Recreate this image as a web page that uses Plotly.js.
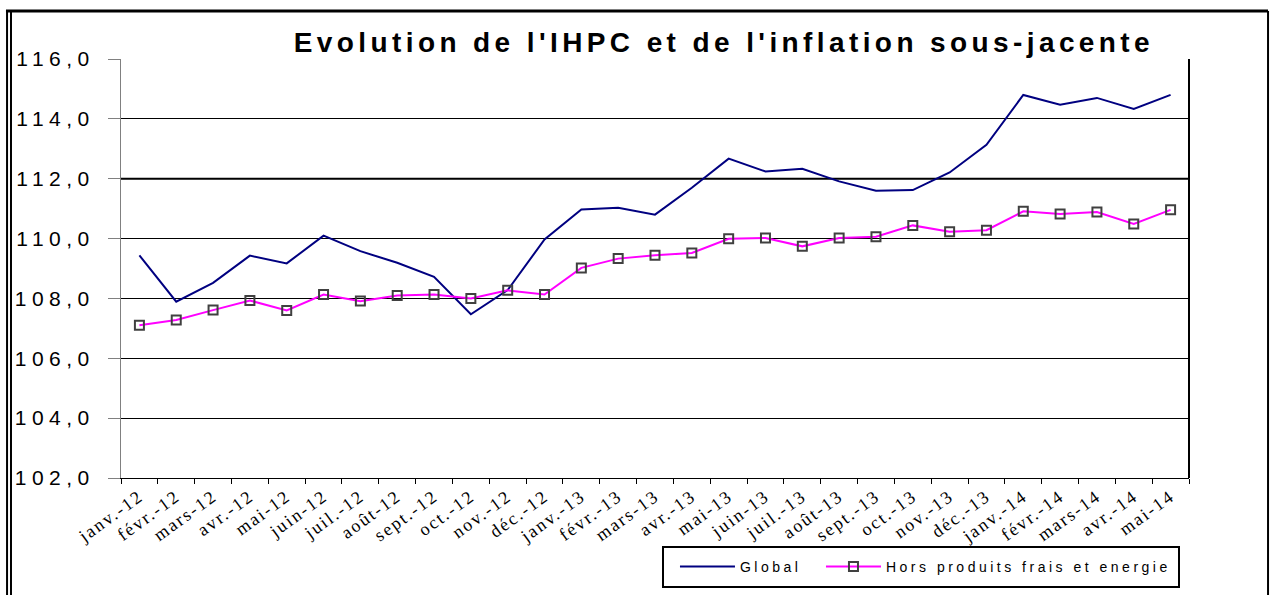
<!DOCTYPE html>
<html>
<head>
<meta charset="utf-8">
<script src="https://cdn.plot.ly/plotly-3.0.1.min.js"></script>
<style>
html,body{margin:0;padding:0;background:#fff;}
#chart{width:1270px;height:595px;}
text.gtitle{letter-spacing:4.4px;}
g.ytick text{letter-spacing:5.5px;}
g.xtick text{letter-spacing:2px;}
text.legendtext{letter-spacing:3.5px;}
</style>
</head>
<body>
<div id="chart"></div>
<script>
const months = ["janv.-12","févr.-12","mars-12","avr.-12","mai-12","juin-12","juil.-12","août-12","sept.-12","oct.-12","nov.-12","déc.-12",
"janv.-13","févr.-13","mars-13","avr.-13","mai-13","juin-13","juil.-13","août-13","sept.-13","oct.-13","nov.-13","déc.-13",
"janv.-14","févr.-14","mars-14","avr.-14","mai-14"];
const globalIdx = [109.44,107.89,108.52,109.43,109.17,110.10,109.58,109.19,108.72,107.47,108.28,109.97,
110.97,111.03,110.80,111.70,112.67,112.24,112.33,111.91,111.60,111.62,112.21,113.13,
114.80,114.47,114.70,114.33,114.80];
const horsPFE = [107.10,107.28,107.61,107.93,107.60,108.13,107.91,108.10,108.13,108.00,108.27,108.13,
109.02,109.33,109.44,109.52,109.99,110.02,109.74,110.02,110.06,110.44,110.23,110.28,
110.91,110.82,110.89,110.49,110.96];
const yTicks = [102,104,106,108,110,112,114,116];

const traces = [
  {x: months, y: globalIdx, name: "Global", type: "scatter", mode: "lines",
   line: {color: "#000080", width: 2}, legendwidth: 76},
  {x: months, y: horsPFE, name: "Hors produits frais et energie", type: "scatter", mode: "lines+markers",
   line: {color: "#FF00FF", width: 2}, legendwidth: 300,
   marker: {symbol: "square-open", size: 9, color: "#404040", line: {color: "#404040", width: 2}}}
];

const layout = {
  width: 1270, height: 595,
  paper_bgcolor: "#fff", plot_bgcolor: "#fff",
  separators: ", ",
  margin: {l: 121, r: 81, t: 59, b: 117, autoexpand: false},
  font: {family: "Liberation Sans, Arial, sans-serif", color: "#000"},
  title: {text: "Evolution de l'IHPC et de l'inflation sous-jacente",
    font: {family: "Liberation Sans, Arial, sans-serif", size: 28, color: "#000", weight: "bold"},
    x: 0.570, xanchor: "center", y: 0.929, yanchor: "middle", xref: "container", yref: "container"},
  xaxis: {type: "category", range: [-0.5, 28.5], tickangle: -36,
    tickfont: {family: "Liberation Serif, Times New Roman, serif", size: 18, color: "#000"},
    showline: true, linecolor: "#000", linewidth: 1, ticks: "outside", ticklen: 5, tickcolor: "#000",
    tickson: "boundaries", showgrid: false, zeroline: false, fixedrange: true, automargin: false},
  yaxis: {range: [102, 116], tickvals: yTicks, tickformat: ".1f",
    tickfont: {family: "Liberation Sans, Arial, sans-serif", size: 21, color: "#000"},
    showline: true, linecolor: "#808080", linewidth: 1, ticks: "outside", ticklen: 12, tickcolor: "#808080",
    ticklabelstandoff: 9, automargin: false,
    showgrid: true, gridcolor: "#000", gridwidth: 1, zeroline: false, fixedrange: true},
  legend: {orientation: "h", x: 0.5187, xanchor: "left", y: -0.2124, yanchor: "middle",
    borderwidth: 0, bgcolor: "rgba(0,0,0,0)", itemwidth: 55,
    font: {family: "Liberation Sans, Arial, sans-serif", size: 14, color: "#000"}},
  showlegend: true,
  shapes: [
    {type: "line", xref: "paper", yref: "paper", x0: 1, x1: 1, y0: 0, y1: 1, line: {color: "#000", width: 2}},
    {type: "line", xref: "paper", yref: "y", x0: 0, x1: 1, y0: 112, y1: 112, line: {color: "#000", width: 2}, layer: "below"},
    {type: "rect", xref: "paper", yref: "paper", x0: (663-121)/1068, x1: (1179-121)/1068, y0: (478-587)/419, y1: (478-547)/419,
     line: {color: "#000", width: 2}, fillcolor: "rgba(0,0,0,0)"},
    {type: "line", xref: "paper", yref: "paper", x0: -0.1067, x1: -0.1067, y0: -0.28, y1: 1.1146, line: {color: "#000", width: 2}},
    {type: "line", xref: "paper", yref: "paper", x0: -0.1030, x1: -0.1030, y0: -0.28, y1: 1.1146, line: {color: "#000", width: 2}},
    {type: "line", xref: "paper", yref: "paper", x0: -0.1077, x1: 1.0740, y0: 1.1146, y1: 1.1146, line: {color: "#000", width: 3}},
    {type: "line", xref: "paper", yref: "paper", x0: 1.0740, x1: 1.0740, y0: -0.28, y1: 1.1146, line: {color: "#000", width: 2}}
  ]
};

Plotly.newPlot("chart", traces, layout, {displayModeBar: false, staticPlot: true});
</script>
</body>
</html>
